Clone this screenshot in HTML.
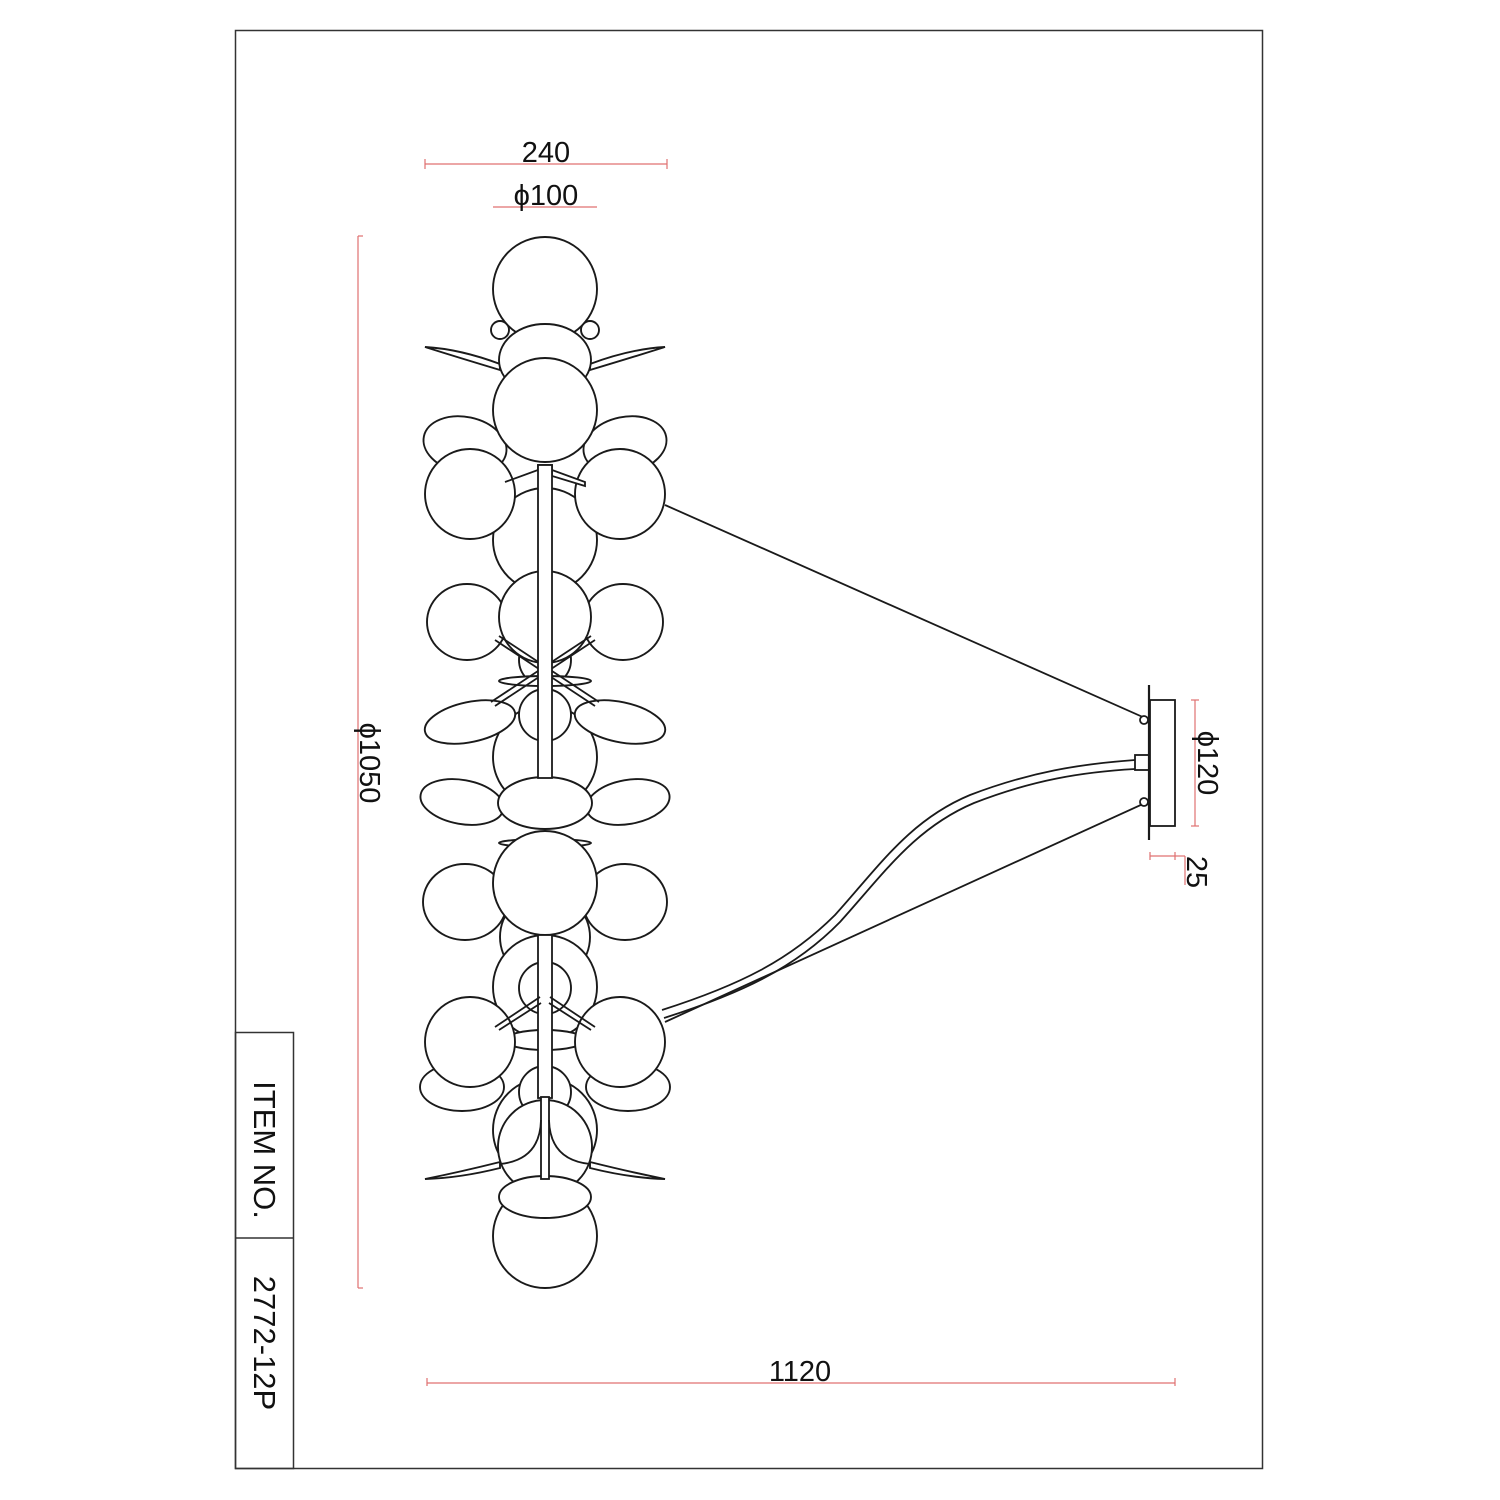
<!DOCTYPE html>
<html><head><meta charset="utf-8"><style>
html,body{margin:0;padding:0;background:#fff;width:1500px;height:1500px;overflow:hidden}
svg{display:block}
text{font-family:"Liberation Sans","DejaVu Sans",sans-serif;fill:#111}
</style></head><body>
<svg width="1500" height="1500" viewBox="0 0 1500 1500" xmlns="http://www.w3.org/2000/svg">
<rect x="235.5" y="30.5" width="1027" height="1438" fill="none" stroke="#333" stroke-width="1.5"/>
<!-- title block -->
<rect x="235.5" y="1032.5" width="58" height="436" fill="none" stroke="#333" stroke-width="1.5"/>
<line x1="235" y1="1238" x2="293" y2="1238" stroke="#333" stroke-width="1.5"/>
<text transform="translate(254,1150) rotate(90)" font-size="31" text-anchor="middle">ITEM NO.</text>
<text transform="translate(254,1343) rotate(90)" font-size="31" text-anchor="middle">2772-12P</text>

<!-- dimensions -->
<g stroke="#e07070" stroke-width="1.2" fill="none">
<line x1="425" y1="164" x2="667" y2="164"/><line x1="425" y1="159" x2="425" y2="169"/><line x1="667" y1="159" x2="667" y2="169"/>
<line x1="493" y1="207" x2="597" y2="207"/>
<line x1="358" y1="236" x2="358" y2="1288"/><line x1="358" y1="236" x2="363" y2="236"/><line x1="358" y1="1288" x2="363" y2="1288"/>
<line x1="427" y1="1383" x2="1175" y2="1383"/><line x1="427" y1="1378" x2="427" y2="1386"/><line x1="1175" y1="1378" x2="1175" y2="1386"/>
<line x1="1195" y1="700" x2="1195" y2="826"/><line x1="1191" y1="700" x2="1199" y2="700"/><line x1="1191" y1="826" x2="1199" y2="826"/>
<line x1="1150" y1="856" x2="1175" y2="856"/><line x1="1150" y1="852" x2="1150" y2="860"/><line x1="1175" y1="852" x2="1175" y2="860"/><line x1="1175" y1="856" x2="1185" y2="856"/><line x1="1185" y1="856" x2="1185" y2="885"/>
</g>
<text x="546" y="162" font-size="29" text-anchor="middle">240</text>
<text x="546" y="205" font-size="29" text-anchor="middle">ϕ100</text>
<text transform="translate(360,763) rotate(90)" font-size="29" text-anchor="middle">ϕ1050</text>
<text x="800" y="1381" font-size="29" text-anchor="middle">1120</text>
<text transform="translate(1198,763) rotate(90)" font-size="29" text-anchor="middle">ϕ120</text>
<text transform="translate(1187,872) rotate(90)" font-size="29" text-anchor="middle">25</text>

<!-- canopy & wires -->
<g stroke="#1a1a1a" stroke-width="1.8" fill="#fff">
<line x1="665" y1="505" x2="1145" y2="718"/>
<line x1="665" y1="1022" x2="1145" y2="803"/>
<path d="M662 1010 C740 985 790 960 835 915 C880 865 910 820 970 795 C1030 772 1080 764 1135 760" fill="none"/>
<path d="M664 1018 C742 993 795 968 840 922 C885 872 915 828 974 803 C1033 780 1082 772 1135 769" fill="none"/>
<rect x="1135" y="755" width="14" height="15"/>
<line x1="1149" y1="685" x2="1149" y2="840" stroke-width="2.2"/>
<rect x="1150" y="700" width="25" height="126" fill="none"/>
<circle cx="1144" cy="720" r="4"/><circle cx="1144" cy="802" r="4"/>
</g>

<!-- fixture -->
<g stroke="#1a1a1a" stroke-width="1.9" fill="#fff">
<circle cx="500" cy="330" r="9"/><circle cx="590" cy="330" r="9"/>
<circle cx="545" cy="289" r="52"/>
<path d="M425 347 Q460 349 500 364 L500 370 Q460 358 425 347 Z"/>
<path d="M665 347 Q630 349 590 364 L590 370 Q630 358 665 347 Z"/>
<ellipse cx="545" cy="360" rx="46" ry="36"/>
<ellipse cx="465" cy="445" rx="42" ry="28" transform="rotate(12 465 445)"/>
<ellipse cx="625" cy="445" rx="42" ry="28" transform="rotate(-12 625 445)"/>
<circle cx="545" cy="540" r="52"/>
<circle cx="545" cy="410" r="52"/>
<circle cx="470" cy="494" r="45"/>
<circle cx="620" cy="494" r="45"/>
<circle cx="545" cy="660" r="26"/>
<ellipse cx="467" cy="622" rx="40" ry="38"/>
<ellipse cx="623" cy="622" rx="40" ry="38"/>
<circle cx="545" cy="617" r="46"/>
<ellipse cx="545" cy="681" rx="46" ry="5"/>
<circle cx="545" cy="757" r="52"/>
<circle cx="545" cy="715" r="26"/>
<ellipse cx="470" cy="722" rx="46" ry="20" transform="rotate(-12 470 722)"/>
<ellipse cx="620" cy="722" rx="46" ry="20" transform="rotate(12 620 722)"/>
<ellipse cx="462" cy="802" rx="42" ry="22" transform="rotate(10 462 802)"/>
<ellipse cx="628" cy="802" rx="42" ry="22" transform="rotate(-10 628 802)"/>
<ellipse cx="545" cy="803" rx="47" ry="26"/>
<ellipse cx="545" cy="843" rx="46" ry="4"/>
<circle cx="545" cy="937" r="45"/>
<ellipse cx="465" cy="902" rx="42" ry="38"/>
<ellipse cx="625" cy="902" rx="42" ry="38"/>
<circle cx="545" cy="883" r="52"/>
<circle cx="545" cy="987" r="52"/>
<circle cx="545" cy="988" r="26"/>
<ellipse cx="545" cy="1040" rx="40" ry="10"/>
<circle cx="545" cy="1130" r="52"/>
<ellipse cx="462" cy="1087" rx="42" ry="24"/>
<ellipse cx="628" cy="1087" rx="42" ry="24"/>
<circle cx="545" cy="1092" r="26"/>
<circle cx="470" cy="1042" r="45"/>
<circle cx="620" cy="1042" r="45"/>
<circle cx="545" cy="1147" r="47"/>
<path d="M425 1179 Q460 1172 500 1162 L500 1168 Q460 1178 425 1179 Z"/>
<path d="M665 1179 Q630 1172 590 1162 L590 1168 Q630 1178 665 1179 Z"/>
<circle cx="545" cy="1236" r="52"/>
<ellipse cx="545" cy="1197" rx="46" ry="21"/>
</g>
<g stroke="#1a1a1a" stroke-width="1.8" fill="#fff">
<path d="M505 482 L538 470 L538 465 L552 465 L552 470 L585 482 L585 486 L552 476 L552 470"/>
<path d="M495 640 L595 706 M499 636 L599 702 M595 640 L495 706 M591 636 L491 702" fill="none"/>
<rect x="538" y="465" width="14" height="313"/>
<rect x="538" y="935" width="14" height="163"/>
<path d="M495 1027 L540 997 M499 1030 L541 1003 M595 1027 L550 997 M591 1030 L549 1003" fill="none"/>
<rect x="541" y="1097" width="8" height="82"/>
<path d="M541 1120 Q540 1160 500 1164 M549 1120 Q550 1160 590 1164" fill="none"/>
</g>
</svg>
</body></html>
